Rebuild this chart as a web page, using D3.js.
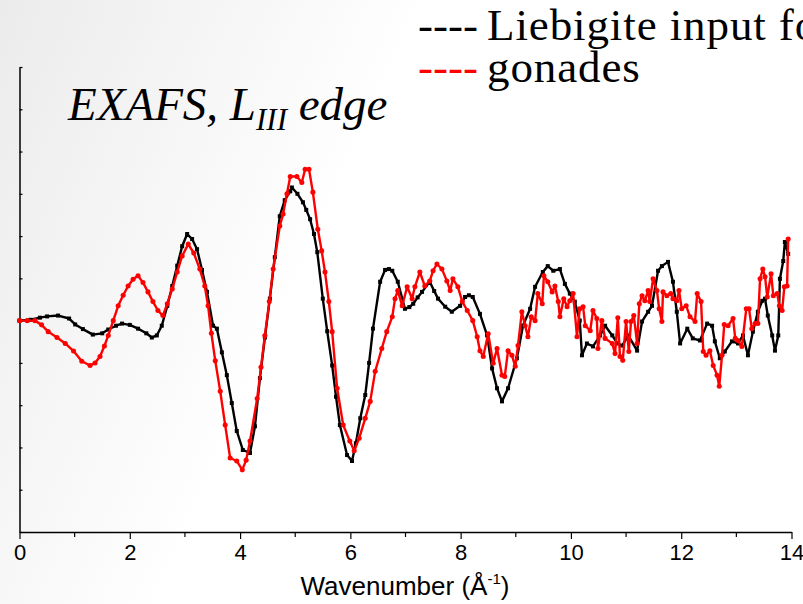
<!DOCTYPE html>
<html>
<head>
<meta charset="utf-8">
<script src="https://cdn.jsdelivr.net/npm/d3@7"></script>
<style>
  html, body { margin: 0; padding: 0; background: #fff; overflow: hidden; }
  svg { display: block; }
</style>
</head>
<body>
<svg id="chart" width="803" height="604"></svg>
<script>
// ---------- data ----------
const legendLabels = ["Liebigite input for", "gonades"];
const titleMain = "EXAFS, L";
const titleSub = "III";
const titleEnd = " edge";
const xLabel = "Wavenumber (Å";
const xTickValues = [0, 2, 4, 6, 8, 10, 12, 14];
const xMinorTicks = [1, 3, 5, 7, 9, 11, 13];
const yTickValues = [-5, -4, -3, -2, -1, 0, 1, 2, 3, 4, 5, 6];

const kBlack = [0, 0.2, 0.37, 0.5, 0.7, 0.9, 1.01, 1.15, 1.33, 1.5, 1.61, 1.75, 1.86, 2.0, 2.15, 2.3, 2.4, 2.49, 2.58, 2.68, 2.77, 2.86, 2.95, 3.04, 3.13, 3.22, 3.31, 3.40, 3.51, 3.58, 3.67, 3.76, 3.85, 3.94, 4.05, 4.18, 4.27, 4.36, 4.45, 4.54, 4.63, 4.72, 4.81, 4.91, 4.94, 5.04, 5.14, 5.2, 5.27, 5.34, 5.40, 5.50, 5.58, 5.67, 5.74, 5.81, 5.94, 6.03, 6.1, 6.18, 6.27, 6.34, 6.41, 6.54, 6.63, 6.70, 6.76, 6.86, 6.99, 7.07, 7.14, 7.22, 7.30, 7.44, 7.52, 7.59, 7.72, 7.84, 7.99, 8.08, 8.15, 8.22, 8.35, 8.48, 8.57, 8.66, 8.75, 8.86, 9.02, 9.13, 9.26, 9.35, 9.49, 9.58, 9.68, 9.80, 9.89, 9.98, 10.07, 10.16, 10.20, 10.29, 10.40, 10.53, 10.62, 10.75, 10.84, 10.93, 11.04, 11.20, 11.29, 11.40, 11.47, 11.58, 11.65, 11.76, 11.85, 11.92, 11.98, 12.11, 12.21, 12.34, 12.47, 12.56, 12.61, 12.70, 12.79, 12.92, 13.03, 13.12, 13.21, 13.30, 13.39, 13.47, 13.52, 13.57, 13.65, 13.70, 13.76, 13.79, 13.85, 13.88, 13.94];
const vBlack = [0, 0.02, 0.07, 0.1, 0.12, 0.05, -0.09, -0.2, -0.33, -0.3, -0.21, -0.12, -0.07, -0.1, -0.19, -0.3, -0.40, -0.35, -0.12, 0.35, 0.82, 1.3, 1.76, 2.05, 1.93, 1.69, 1.2, 0.68, -0.12, -0.19, -0.75, -1.29, -1.95, -2.61, -3.06, -3.13, -2.5, -1.36, -0.4, 0.52, 1.5, 2.47, 2.85, 3.06, 3.15, 3.0, 2.80, 2.62, 2.40, 2.05, 1.62, 0.52, -0.25, -1.06, -1.8, -2.47, -3.18, -3.32, -2.9, -2.31, -1.76, -1.0, -0.19, 0.92, 1.20, 1.22, 1.18, 0.92, 0.28, 0.32, 0.40, 0.55, 0.68, 0.92, 0.7, 0.52, 0.33, 0.21, 0.35, 0.56, 0.6, 0.56, 0.16, -0.35, -1.13, -1.6, -1.91, -1.60, -0.89, -0.12, 0.28, 0.80, 1.15, 1.29, 1.18, 1.22, 0.87, 0.64, 0.45, 0.00, -0.82, -0.54, -0.61, -0.35, -0.12, -0.35, -0.54, -0.59, -0.35, -0.71, -0.02, 0.21, 0.35, 1.18, 1.29, 1.39, 0.92, 0.21, -0.54, -0.19, -0.42, -0.47, -0.07, -0.12, -0.49, -0.89, -0.73, -0.49, -0.54, -0.35, -0.82, -0.26, 0.21, 0.47, 0.52, 0.12, -0.35, -0.71, -0.35, 0.99, 1.41, 1.86, 1.58];

const kRed = [0, 0.14, 0.28, 0.4, 0.52, 0.68, 0.83, 0.98, 1.13, 1.28, 1.37, 1.46, 1.54, 1.61, 1.70, 1.79, 1.88, 1.97, 2.06, 2.15, 2.24, 2.33, 2.42, 2.51, 2.60, 2.68, 2.77, 2.86, 2.95, 3.06, 3.16, 3.27, 3.36, 3.42, 3.48, 3.55, 3.64, 3.73, 3.82, 3.94, 4.04, 4.11, 4.18, 4.31, 4.38, 4.45, 4.53, 4.60, 4.72, 4.78, 4.85, 4.91, 5.03, 5.12, 5.18, 5.25, 5.32, 5.41, 5.48, 5.54, 5.61, 5.67, 5.76, 5.87, 5.99, 6.07, 6.16, 6.27, 6.36, 6.45, 6.57, 6.66, 6.76, 6.81, 6.86, 6.94, 7.03, 7.12, 7.17, 7.26, 7.35, 7.44, 7.50, 7.57, 7.66, 7.75, 7.81, 7.86, 7.95, 8.03, 8.12, 8.22, 8.30, 8.35, 8.41, 8.50, 8.59, 8.66, 8.75, 8.80, 8.86, 8.93, 8.99, 9.04, 9.11, 9.17, 9.22, 9.28, 9.35, 9.40, 9.48, 9.51, 9.58, 9.66, 9.71, 9.77, 9.80, 9.87, 9.93, 9.98, 10.04, 10.11, 10.16, 10.22, 10.26, 10.35, 10.40, 10.47, 10.49, 10.56, 10.62, 10.75, 10.80, 10.85, 10.89, 10.94, 11.00, 11.05, 11.09, 11.14, 11.20, 11.24, 11.29, 11.34, 11.40, 11.43, 11.49, 11.56, 11.60, 11.65, 11.67, 11.74, 11.81, 11.85, 11.92, 11.96, 12.01, 12.09, 12.16, 12.25, 12.29, 12.36, 12.40, 12.45, 12.52, 12.58, 12.65, 12.69, 12.74, 12.78, 12.85, 12.94, 12.98, 13.03, 13.10, 13.18, 13.23, 13.28, 13.34, 13.39, 13.43, 13.48, 13.52, 13.56, 13.63, 13.67, 13.74, 13.78, 13.83, 13.87, 13.92, 13.94];
const vRed = [0, 0, 0, -0.1, -0.26, -0.4, -0.54, -0.72, -0.96, -1.06, -1.0, -0.85, -0.6, -0.35, 0.0, 0.35, 0.6, 0.82, 0.98, 1.06, 0.9, 0.68, 0.45, 0.24, 0.12, 0.4, 0.75, 1.15, 1.53, 1.81, 1.6, 1.22, 0.82, 0.35, -0.3, -0.95, -1.67, -2.47, -3.25, -3.32, -3.53, -3.3, -2.85, -1.84, -1.1, -0.35, 0.45, 1.22, 2.24, 2.52, 3.0, 3.41, 3.41, 3.27, 3.58, 3.58, 3.04, 2.16, 1.65, 1.15, 0.45, -0.26, -1.60, -2.47, -2.85, -3.08, -2.78, -2.31, -1.91, -1.20, -0.66, -0.26, 0.09, 0.52, 0.71, 0.35, 0.80, 0.52, 0.80, 1.15, 0.82, 0.94, 1.18, 1.34, 1.22, 0.94, 0.71, 0.99, 0.80, 0.45, 0.24, 0.00, -0.38, -0.71, -0.85, -0.31, -1.01, -0.66, -1.29, -1.32, -0.71, -0.82, -1.08, -0.59, 0.21, -0.12, -0.38, 0.09, 0.00, 0.64, 0.40, 1.06, 0.92, 0.68, 0.82, 0.45, 0.09, 0.52, 0.33, 0.47, 0.64, -0.38, 0.28, 0.33, -0.12, -0.24, 0.24, 0.05, -0.66, 0.00, -0.42, -0.54, -0.78, 0.07, -0.85, -0.94, -0.02, -0.73, -0.02, 0.12, -0.54, 0.40, 0.59, 0.47, 0.71, 0.45, 0.99, 0.71, 0.28, -0.02, 0.68, 0.59, 0.64, 0.52, 0.47, 0.71, 0.28, 0.35, 0.09, -0.02, 0.64, 0.45, -0.73, -0.82, -0.71, -1.06, -1.29, -1.55, -0.82, -0.09, -0.12, 0.05, -0.42, -0.47, -0.61, 0.28, 0.28, -0.19, -0.07, -0.07, 0.99, 1.22, 1.04, 0.56, 1.11, 0.59, 0.64, 0.35, 0.24, 0.80, 0.82, 1.93];

// ---------- drawing ----------
const svg = d3.select("#chart");
const W = 803, H = 604;
const margin = { left: 19.5, right: 11.5, top: 67, bottom: 72 };

// subtle slide-like background gradient
const defs = svg.append("defs");
const grad = defs.append("linearGradient")
  .attr("id", "bg").attr("gradientUnits", "userSpaceOnUse")
  .attr("x1", 0).attr("y1", 0).attr("x2", 360).attr("y2", 160);
grad.append("stop").attr("offset", 0).attr("stop-color", "#ebebeb");
grad.append("stop").attr("offset", 1).attr("stop-color", "#ffffff");
svg.append("rect").attr("width", W).attr("height", H).attr("fill", "url(#bg)");

const x = d3.scaleLinear().domain([0, 14]).range([margin.left, W - margin.right]);
const y = d3.scaleLinear().domain([-5, 6]).range([H - margin.bottom, margin.top]);
const yBottom = H - margin.bottom;

// x axis
const xAxis = d3.axisBottom(x).tickValues(xTickValues).tickFormat(d3.format("d"))
  .tickSizeInner(7).tickSizeOuter(0).tickPadding(5);
const gx = svg.append("g").attr("transform", `translate(0,${yBottom})`).call(xAxis);
gx.select(".domain").attr("stroke", "#000").attr("stroke-width", 1.5);
gx.selectAll(".tick line").attr("stroke", "#000").attr("stroke-width", 1.2);
gx.selectAll(".tick text").attr("font-family", "Liberation Sans, Arial, sans-serif")
  .attr("font-size", 22).attr("fill", "#000");
gx.selectAll(".minor").data(xMinorTicks).enter().append("line")
  .attr("x1", d => x(d)).attr("x2", d => x(d)).attr("y1", 0).attr("y2", 5)
  .attr("stroke", "#000").attr("stroke-width", 1.2);

// y axis (no labels, inward ticks)
const yAxis = d3.axisRight(y).tickValues(yTickValues).tickFormat("")
  .tickSizeInner(3).tickSizeOuter(0);
const gy = svg.append("g").attr("transform", `translate(${x(0)},0)`).call(yAxis);
gy.select(".domain").attr("stroke", "#000").attr("stroke-width", 1.5);
gy.selectAll(".tick line").attr("stroke", "#000").attr("stroke-width", 1.2);

// x axis title
const xt = svg.append("text").attr("x", 405).attr("y", 595)
  .attr("text-anchor", "middle")
  .attr("font-family", "Liberation Sans, Arial, sans-serif").attr("font-size", 26).attr("fill", "#000");
xt.append("tspan").text(xLabel);
xt.append("tspan").attr("font-size", 15).attr("dy", -11).text("-1");
xt.append("tspan").attr("dy", 11).text(")");

// series
const series = [
  { k: kBlack, v: vBlack, color: "#000000", shape: "square" },
  { k: kRed, v: vRed, color: "#ff0000", shape: "circle" }
];
const line = d3.line().x(d => x(d[0])).y(d => y(d[1]));
series.forEach(s => {
  const pts = s.k.map((k, i) => [k, s.v[i]]);
  svg.append("path").datum(pts).attr("d", line)
    .attr("fill", "none").attr("stroke", s.color).attr("stroke-width", 2.4)
    .attr("stroke-linejoin", "round");
  const sym = d3.symbol().type(s.shape === "square" ? d3.symbolSquare : d3.symbolCircle)
    .size(s.shape === "square" ? 16 : 20);
  svg.append("g").selectAll("path").data(pts).enter().append("path")
    .attr("d", sym).attr("transform", d => `translate(${x(d[0])},${y(d[1])})`)
    .attr("fill", s.color);
});

// title
const tt = svg.append("text").attr("x", 68).attr("y", 120)
  .attr("font-family", "Liberation Serif, Times New Roman, serif")
  .attr("font-style", "italic").attr("font-size", 47).attr("fill", "#000");
tt.append("tspan").text(titleMain);
tt.append("tspan").attr("font-size", 31).attr("dy", 10).text(titleSub);
tt.append("tspan").attr("dy", -10).text(titleEnd);

// legend
const legColors = ["#000000", "#ff0000"];
const legBase = [40, 82];
legendLabels.forEach((lab, i) => {
  const t = svg.append("text").attr("x", 418).attr("y", legBase[i])
    .attr("font-family", "Liberation Serif, Times New Roman, serif")
    .attr("font-size", 45).attr("fill", "#000");
  t.append("tspan").attr("fill", legColors[i]).text("----");
  t.append("tspan").attr("x", 487).attr("letter-spacing", 0.9).text(lab);
});
</script>
</body>
</html>
